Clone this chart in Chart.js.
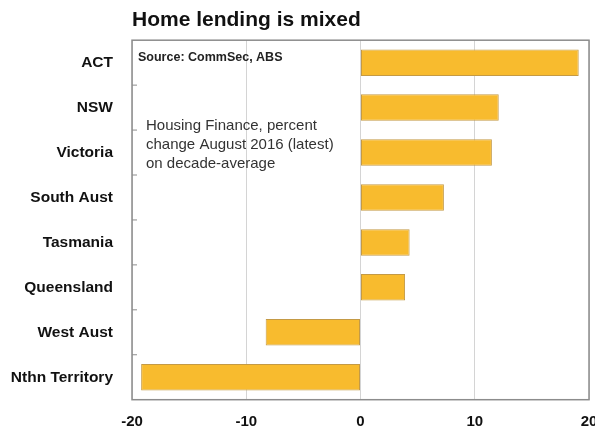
<!DOCTYPE html>
<html lang="en">
  <head>
    <meta charset="UTF-8" />
    <title>Home lending is mixed</title>
    <script src="https://cdn.jsdelivr.net/npm/chart.js@4"></script>
  </head>
  <style>
    html, body { margin: 0; padding: 0; background: white; }
    #wrap { width: 595px; height: 428px; }
  </style>
  <body>
    <div id="wrap"><canvas id="chart"></canvas></div>
    <script>
      const states = ["ACT", "NSW", "Victoria", "South Aust", "Tasmania", "Queensland", "West Aust", "Nthn Territory"];
      const change = [19.1, 12.1, 11.5, 7.3, 4.3, 3.9, -8.3, -19.2];
      const xTicks = [-20, -10, 0, 10, 20];
      const sourceNote = "Source: CommSec, ABS";
      const noteLines = ["Housing Finance, percent", "change August 2016 (latest)", "on decade-average"];

      const font = "Arial, 'Liberation Sans', sans-serif";

      // box round the plot, small inside ticks and the text notes
      const extras = {
        id: "extras",
        afterDraw(chart) {
          const { ctx, chartArea: a, scales } = chart;
          ctx.save();
          ctx.strokeStyle = "#8c8c8c";
          ctx.lineWidth = 1.5;
          ctx.strokeRect(a.left, a.top, a.right - a.left, a.bottom - a.top);
          ctx.lineWidth = 1;
          ctx.beginPath();
          for (let i = 1; i < states.length; i++) {
            const y = (scales.y.getPixelForValue(i - 1) + scales.y.getPixelForValue(i)) / 2;
            ctx.moveTo(a.left, y);
            ctx.lineTo(a.left + 5, y);
          }
          ctx.stroke();
          ctx.fillStyle = "#222";
          ctx.textBaseline = "middle";
          ctx.font = "bold 12.5px " + font;
          ctx.fillText(sourceNote, a.left + 6, a.top + 17);
          ctx.font = "15px " + font;
          ctx.fillStyle = "#333";
          noteLines.forEach((t, i) => ctx.fillText(t, a.left + 14, a.top + 86 + i * 19));
          ctx.restore();
        },
      };

      new Chart(document.getElementById("chart"), {
        type: "bar",
        data: {
          labels: states,
          datasets: [
            {
              data: change,
              backgroundColor: "#f8bb2e",
              borderColor: "#c49a45",
              borderWidth: 1,
              borderSkipped: false,
              categoryPercentage: 0.59,
              barPercentage: 1,
            },
          ],
        },
        options: {
          indexAxis: "y",
          responsive: true,
          maintainAspectRatio: false,
          animation: false,
          layout: { padding: { left: 0, right: 6, top: 0, bottom: 0 } },
          plugins: {
            legend: { display: false },
            tooltip: { enabled: false },
            title: {
              display: true,
              text: "Home lending is mixed",
              align: "start",
              fullSize: false,
              color: "#111",
              font: { family: font, size: 21, weight: "bold" },
              padding: { top: 8, bottom: 7 },
            },
          },
          scales: {
            x: {
              min: -20,
              max: 20,
              afterBuildTicks(s) {
                s.ticks = xTicks.map((v) => ({ value: v }));
              },
              afterFit(s) {
                s.height = 27;
                s.paddingLeft = 0;
                s.paddingRight = 0;
              },
              grid: { color: "#d4d4d4", drawTicks: false },
              border: { display: false },
              ticks: {
                color: "#111",
                padding: 13,
                font: { family: font, size: 15, weight: "bold" },
              },
            },
            y: {
              afterFit(s) {
                s.width = 132;
              },
              grid: { display: false, drawTicks: false },
              border: { display: false },
              ticks: {
                color: "#111",
                padding: 19,
                font: { family: font, size: 15.5, weight: "bold" },
              },
            },
          },
        },
        plugins: [extras],
      });
    </script>
  </body>
</html>
